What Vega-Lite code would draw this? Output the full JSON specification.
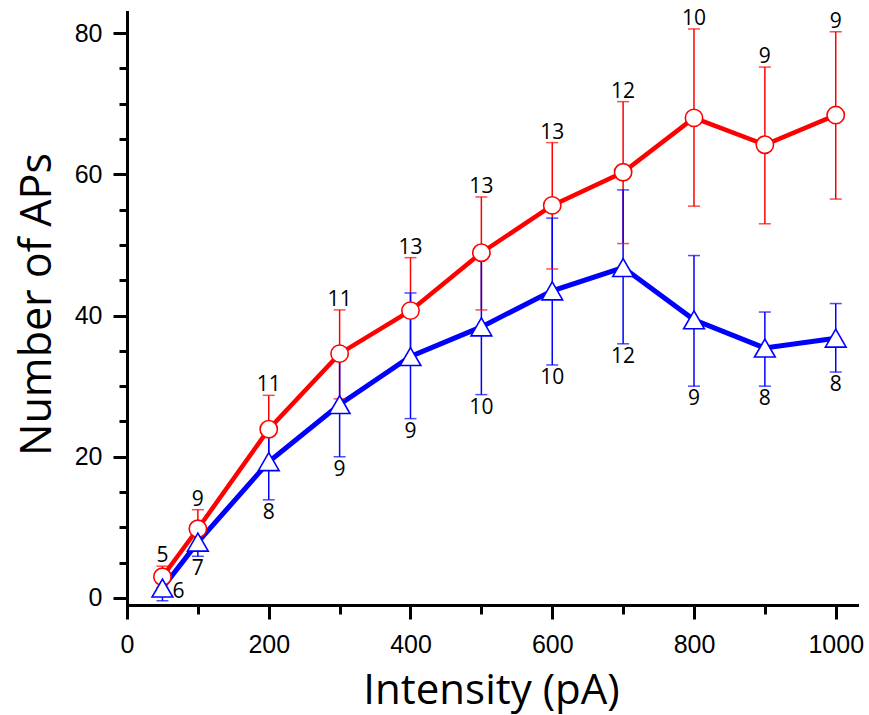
{
  "$schema": "https://vega.github.io/schema/vega-lite/v6.json",
  "width": 730,
  "height": 593,
  "autosize": "none",
  "padding": {"left": 127, "top": 12, "right": 12, "bottom": 110},
  "background": "white",
  "config": {"view": {"stroke": null}},
  "data": {
    "values": [
      {"x": 50, "group": "A", "mean": 3.0, "lo": 1.5, "hi": 4.5, "n": "5"},
      {"x": 100, "group": "A", "mean": 9.8, "lo": 6.9, "hi": 12.5, "n": "9"},
      {"x": 200, "group": "A", "mean": 23.9, "lo": 18.9, "hi": 28.7, "n": "11"},
      {"x": 300, "group": "A", "mean": 34.6, "lo": 28.2, "hi": 40.8, "n": "11"},
      {"x": 400, "group": "A", "mean": 40.7, "lo": 33.4, "hi": 48.2, "n": "13"},
      {"x": 500, "group": "A", "mean": 48.9, "lo": 40.8, "hi": 56.8, "n": "13"},
      {"x": 600, "group": "A", "mean": 55.6, "lo": 46.6, "hi": 64.5, "n": "13"},
      {"x": 700, "group": "A", "mean": 60.3, "lo": 50.2, "hi": 70.3, "n": "12"},
      {"x": 800, "group": "A", "mean": 68.0, "lo": 55.5, "hi": 80.6, "n": "10"},
      {"x": 900, "group": "A", "mean": 64.2, "lo": 53.0, "hi": 75.2, "n": "9"},
      {"x": 1000, "group": "A", "mean": 68.4, "lo": 56.5, "hi": 80.2, "n": "9"},
      {"x": 50, "group": "B", "mean": 1.4, "lo": -0.4, "hi": 3.2, "n": "6"},
      {"x": 100, "group": "B", "mean": 7.9, "lo": 5.9, "hi": 9.8, "n": "7"},
      {"x": 200, "group": "B", "mean": 19.3, "lo": 13.9, "hi": 24.4, "n": "8"},
      {"x": 300, "group": "B", "mean": 27.4, "lo": 20.0, "hi": 35.0, "n": "9"},
      {"x": 400, "group": "B", "mean": 34.2, "lo": 25.4, "hi": 43.2, "n": "9"},
      {"x": 500, "group": "B", "mean": 38.4, "lo": 28.8, "hi": 48.2, "n": "10"},
      {"x": 600, "group": "B", "mean": 43.5, "lo": 33.0, "hi": 53.8, "n": "10"},
      {"x": 700, "group": "B", "mean": 46.8, "lo": 36.0, "hi": 57.8, "n": "12"},
      {"x": 800, "group": "B", "mean": 39.4, "lo": 30.0, "hi": 48.5, "n": "9"},
      {"x": 900, "group": "B", "mean": 35.4, "lo": 30.0, "hi": 40.5, "n": "8"},
      {"x": 1000, "group": "B", "mean": 36.8, "lo": 32.0, "hi": 41.7, "n": "8"}
    ]
  },
  "resolve": {"axis": {"x": "independent", "y": "independent"}},
  "layer": [
    {
      "transform": [{"filter": "datum.group === 'A'"}],
      "mark": {"type": "line", "color": "#ff0000", "strokeWidth": 4.5},
      "encoding": {
        "x": {"field": "x", "type": "quantitative", "scale": {"domain": [0, 1030], "nice": false, "zero": false},
          "axis": {"orient": "bottom", "values": [0, 200, 400, 600, 800, 1000], "format": "d", "grid": false, "domainColor": "black", "domainWidth": 3, "domainCap": "square", "tickColor": "black", "tickWidth": 3, "tickSize": 14, "labelFont": "Liberation Sans", "labelFontSize": 25, "labelColor": "black", "labelPadding": 13, "labelOverlap": false, "labelFlush": false, "labelBound": false, "title": "Intensity (pA)", "titleFont": "Open Sans", "titleFontSize": 42, "titleFontWeight": "normal", "titleColor": "black", "titleBaseline": "alphabetic", "titleX": 364, "titleY": 98, "titleAnchor": "middle"}},
        "y": {"field": "mean", "type": "quantitative", "scale": {"domain": [-1, 83], "nice": false, "zero": false},
          "axis": {"orient": "left", "values": [0, 20, 40, 60, 80], "format": "d", "grid": false, "domainColor": "black", "domainWidth": 3, "domainCap": "square", "tickColor": "black", "tickWidth": 3, "tickSize": 14, "labelFont": "Liberation Sans", "labelFontSize": 25, "labelColor": "black", "labelPadding": 11, "labelOverlap": false, "labelBound": false, "title": "Number of APs", "titleFont": "Open Sans", "titleFontSize": 43, "titleFontWeight": "normal", "titleColor": "black", "titleBaseline": "alphabetic", "titleAngle": -90, "titleX": -77, "titleY": 292, "titleAnchor": "middle"}}
      }
    },
    {
      "transform": [{"filter": "datum.group === 'B'"}],
      "mark": {"type": "line", "color": "#0000ff", "strokeWidth": 5},
      "encoding": {
        "x": {"field": "x", "type": "quantitative", "scale": {"domain": [0, 1030], "nice": false, "zero": false},
          "axis": {"orient": "bottom", "values": [100, 300, 500, 700, 900], "grid": false, "domain": false, "labels": false, "tickColor": "black", "tickWidth": 3, "tickSize": 9, "title": null}},
        "y": {"field": "mean", "type": "quantitative", "scale": {"domain": [-1, 83], "nice": false, "zero": false},
          "axis": {"orient": "left", "values": [5, 10, 15, 25, 30, 35, 45, 50, 55, 65, 70, 75], "grid": false, "domain": false, "labels": false, "tickColor": "black", "tickWidth": 3, "tickSize": 8, "title": null}}
      }
    },
    {
      "mark": {"type": "rule", "strokeWidth": 1.5},
      "encoding": {
        "x": {"field": "x", "type": "quantitative", "axis": null},
        "y": {"field": "lo", "type": "quantitative", "axis": null},
        "y2": {"field": "hi"},
        "color": {"field": "group", "type": "nominal", "scale": {"domain": ["A", "B"], "range": ["#ff0000", "#0000ff"]}, "legend": null}
      }
    },
    {
      "mark": {"type": "tick", "orient": "horizontal", "size": 12, "thickness": 1.5},
      "encoding": {
        "x": {"field": "x", "type": "quantitative", "axis": null},
        "y": {"field": "lo", "type": "quantitative", "axis": null},
        "color": {"field": "group", "type": "nominal", "legend": null}
      }
    },
    {
      "mark": {"type": "tick", "orient": "horizontal", "size": 12, "thickness": 1.5},
      "encoding": {
        "x": {"field": "x", "type": "quantitative", "axis": null},
        "y": {"field": "hi", "type": "quantitative", "axis": null},
        "color": {"field": "group", "type": "nominal", "legend": null}
      }
    },
    {
      "transform": [{"filter": "datum.group === 'A'"}],
      "mark": {"type": "point", "shape": "circle", "size": 300, "filled": false, "fill": "white", "fillOpacity": 1, "stroke": "#ff0000", "strokeWidth": 1.6, "opacity": 1},
      "encoding": {
        "x": {"field": "x", "type": "quantitative", "axis": null},
        "y": {"field": "mean", "type": "quantitative", "axis": null}
      }
    },
    {
      "transform": [{"filter": "datum.group === 'B'"}],
      "mark": {"type": "point", "shape": "triangle-up", "size": 430, "filled": false, "fill": "white", "fillOpacity": 1, "stroke": "#0000ff", "strokeWidth": 1.6, "opacity": 1},
      "encoding": {
        "x": {"field": "x", "type": "quantitative", "axis": null},
        "y": {"field": "mean", "type": "quantitative", "axis": null}
      }
    },
    {
      "transform": [{"filter": "datum.group === 'A'"}],
      "mark": {"type": "text", "font": "Open Sans", "fontSize": 21, "color": "black", "baseline": "alphabetic", "align": "center", "dy": -4},
      "encoding": {
        "x": {"field": "x", "type": "quantitative", "axis": null},
        "y": {"field": "hi", "type": "quantitative", "axis": null},
        "text": {"field": "n"}
      }
    },
    {
      "transform": [{"filter": "datum.group === 'B' && datum.x !== 50"}],
      "mark": {"type": "text", "font": "Open Sans", "fontSize": 21, "color": "black", "baseline": "top", "align": "center", "dy": 2},
      "encoding": {
        "x": {"field": "x", "type": "quantitative", "axis": null},
        "y": {"field": "lo", "type": "quantitative", "axis": null},
        "text": {"field": "n"}
      }
    },
    {
      "transform": [{"filter": "datum.group === 'B' && datum.x === 50"}],
      "mark": {"type": "text", "font": "Open Sans", "fontSize": 21, "color": "black", "baseline": "middle", "align": "left", "dx": 10, "dy": 4},
      "encoding": {
        "x": {"field": "x", "type": "quantitative", "axis": null},
        "y": {"field": "mean", "type": "quantitative", "axis": null},
        "text": {"field": "n"}
      }
    }
  ]
}
